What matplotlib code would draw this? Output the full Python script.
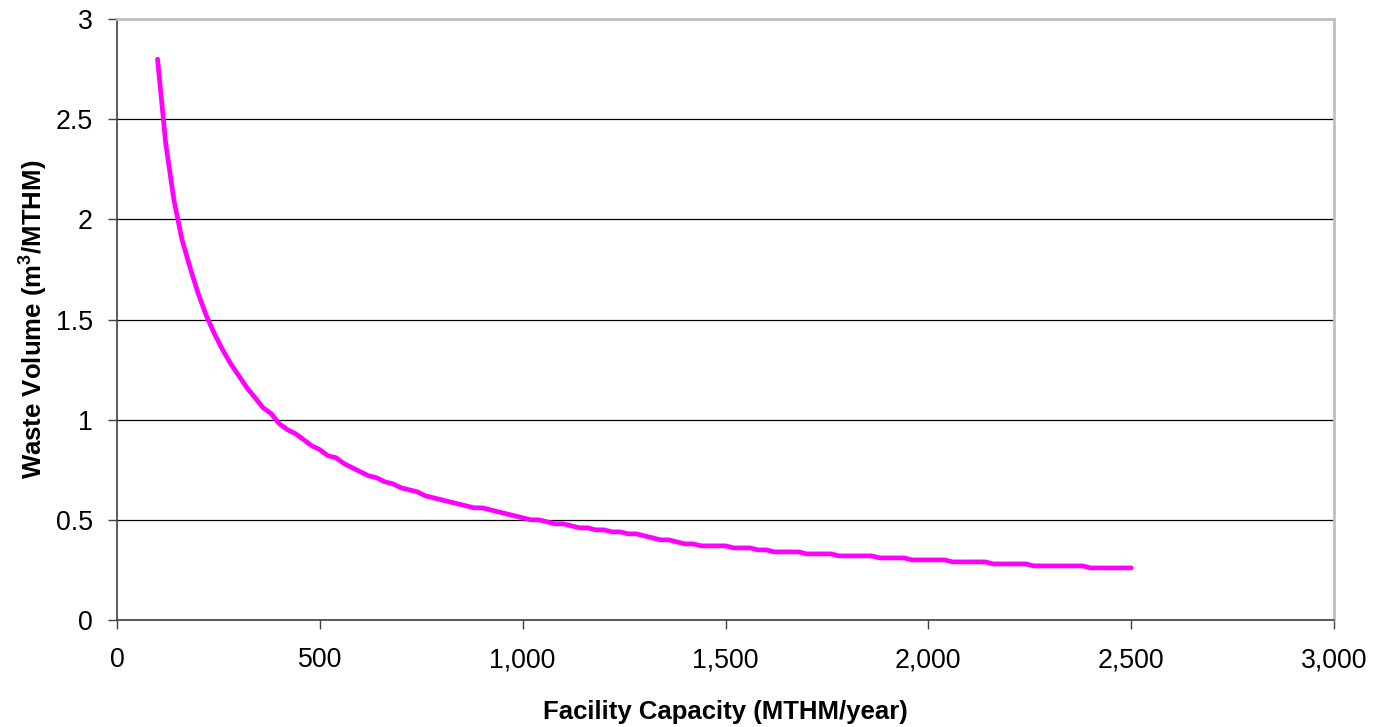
import matplotlib
matplotlib.use("Agg")
import matplotlib.pyplot as plt
from matplotlib.ticker import MultipleLocator, FuncFormatter

plt.rcParams["font.family"] = ["Liberation Sans", "DejaVu Sans"]
plt.rcParams["mathtext.fontset"] = "custom"
plt.rcParams["mathtext.rm"] = "Liberation Sans"
plt.rcParams["mathtext.bf"] = "Liberation Sans:bold"

# Facility capacity (MTHM/year), sampled every 20
capacity = list(range(100, 2501, 20))

# Waste volume (m3/MTHM)
volume = [
    2.80, 2.38, 2.10, 1.90, 1.76, 1.63, 1.52, 1.43, 1.35, 1.28,
    1.22, 1.16, 1.11, 1.06, 1.03, 0.98, 0.95, 0.93, 0.90, 0.87,
    0.85, 0.82, 0.81, 0.78, 0.76, 0.74, 0.72, 0.71, 0.69, 0.68,
    0.66, 0.65, 0.64, 0.62, 0.61, 0.60, 0.59, 0.58, 0.57, 0.56,
    0.56, 0.55, 0.54, 0.53, 0.52, 0.51, 0.50, 0.50, 0.49, 0.48,
    0.48, 0.47, 0.46, 0.46, 0.45, 0.45, 0.44, 0.44, 0.43, 0.43,
    0.42, 0.41, 0.40, 0.40, 0.39, 0.38, 0.38, 0.37, 0.37, 0.37,
    0.37, 0.36, 0.36, 0.36, 0.35, 0.35, 0.34, 0.34, 0.34, 0.34,
    0.33, 0.33, 0.33, 0.33, 0.32, 0.32, 0.32, 0.32, 0.32, 0.31,
    0.31, 0.31, 0.31, 0.30, 0.30, 0.30, 0.30, 0.30, 0.29, 0.29,
    0.29, 0.29, 0.29, 0.28, 0.28, 0.28, 0.28, 0.28, 0.27, 0.27,
    0.27, 0.27, 0.27, 0.27, 0.27, 0.26, 0.26, 0.26, 0.26, 0.26,
    0.26,
]

fig = plt.figure(figsize=(13.85, 7.27), dpi=100)
ax = fig.add_axes([117 / 1385, 1 - 620 / 727, (1334 - 117) / 1385, (620 - 19) / 727])

ax.plot(capacity, volume, color="#FF00FF", lw=3.4,
        solid_capstyle="round", solid_joinstyle="round", zorder=3)

ax.set_xlim(0, 3000)
ax.set_ylim(0, 3)
ax.xaxis.set_major_locator(MultipleLocator(500))
ax.yaxis.set_major_locator(MultipleLocator(0.5))
ax.xaxis.set_major_formatter(FuncFormatter(lambda v, p: f"{v:,.0f}"))
ax.yaxis.set_major_formatter(FuncFormatter(lambda v, p: f"{v:g}"))

ax.yaxis.grid(True, color="black", lw=0.9)
ax.set_axisbelow(True)

for side in ["left", "bottom"]:
    ax.spines[side].set_color("#404040")
    ax.spines[side].set_linewidth(1.2)
for side in ["top", "right"]:
    ax.spines[side].set_color("#C0C0C0")
    ax.spines[side].set_linewidth(2)

ax.tick_params(axis="both", direction="out", length=6.5, width=1,
               color="#404040", labelsize=19.3)
ax.tick_params(axis="x", pad=13)
ax.tick_params(axis="y", pad=11)

ax.set_xlabel("Facility Capacity (MTHM/year)", fontsize=18.5,
              fontweight="bold", va="center")
ax.xaxis.set_label_coords(0.5, -0.153)
ax.set_ylabel(r"Waste Volume (m$^{\mathbf{3}}$/MTHM)", fontsize=18.5,
              fontweight="bold", va="center")
ax.yaxis.set_label_coords(-0.0698, 0.5)

fig.savefig("out.png", dpi=100)
